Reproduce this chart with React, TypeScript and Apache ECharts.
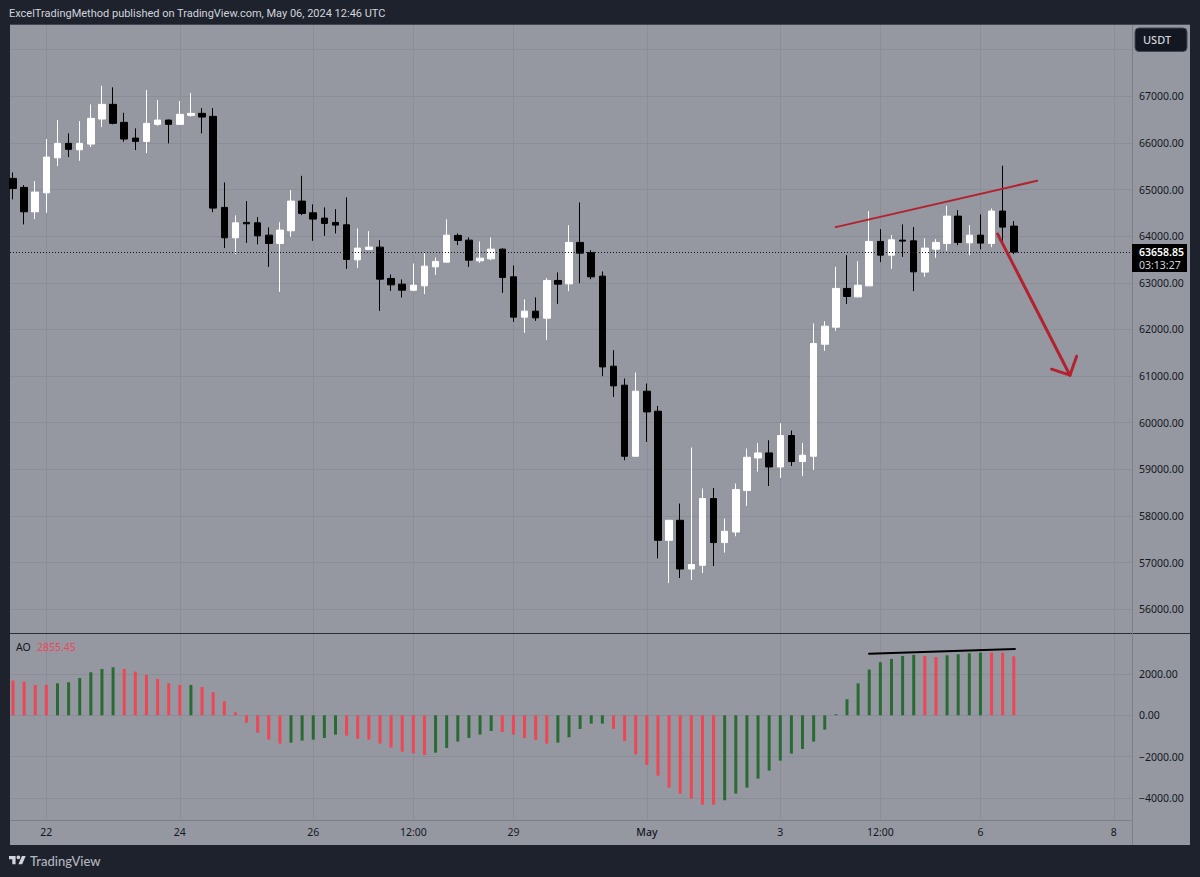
import React, { useEffect, useRef } from "react";
import * as echarts from "echarts";

const opens = [65240,65047,64524,64931,65682,65991,65854,65976,66513,66828,66442,66105,66034,66399,66491,66399,66592,66635,66571,64618,63966,64296,64287,64023,63845,64116,64753,64502,64388,64296,64245,63493,63717,63766,63094,62972,62843,62935,63343,63444,64017,63916,63472,63515,63723,63129,62264,62393,62242,63051,62978,63867,63652,63144,61212,60805,59281,60676,60247,57478,57907,56862,56942,58373,57429,57656,58545,59244,59352,59051,59725,59167,59281,61684,62049,62880,62699,62935,63888,63594,63916,63901,63230,63723,63845,64431,63858,64023,63845,64539,64217];
const closes = [65026,64524,64946,65697,65991,65863,65991,66528,66828,66421,66084,66034,66421,66491,66399,66614,66635,66556,64603,63966,64287,64266,64008,63845,64131,64753,64489,64367,64275,64238,63502,63745,63766,63079,62957,62843,62950,63358,63459,64023,63910,63487,63530,63723,63116,62264,62393,62249,63051,62972,63867,63637,63129,61197,60790,59281,60676,60232,57478,57907,56862,56957,58373,57429,57671,58566,59259,59352,59051,59725,59167,59302,61699,62071,62880,62708,62950,63888,63594,63923,63895,63236,63745,63867,64431,63867,64023,63852,64539,64195,63658.85];
const lows = [64790,64253,64367,64502,65504,65697,65618,65912,66341,66400,66026,65848,65783,66369,65991,66390,66562,66206,64517,63745,63616,63858,63824,63343,62807,63987,64453,63901,64008,64060,63300,63322,63702,62399,62828,62687,62822,62757,63172,63440,63809,63343,63429,63487,62785,62163,61927,62184,61777,62549,62822,62993,63079,60998,60553,59195,59270,59588,57092,56562,56669,56626,56776,56927,57214,57564,58214,58952,58643,58815,59073,58858,58987,61541,61970,62549,62690,62930,63444,63300,63558,62822,63129,63536,63687,63809,63594,63717,63766,63845,63616];
const highs = [65369,65096,65182,66084,66491,66206,66470,66828,67227,67193,66648,66313,67135,66921,66500,66899,67071,66749,66749,65154,64446,64753,64410,64189,64302,64989,65296,64682,64618,64581,64833,64167,64109,63916,63180,63073,63416,63644,63545,64360,64060,63974,63888,63974,63738,63373,62644,62687,63101,63223,64238,64725,63702,63244,61556,60948,61077,60841,60360,57910,58266,59468,58588,58601,57944,58695,59446,59566,59624,59989,59832,59566,62129,62178,63343,63594,63465,64539,64152,64023,64253,64195,63953,63938,64652,64560,64238,64468,64596,65511,64324];

const aoValues = [1677,1629,1468,1468,1548,1597,1806,2081,2242,2323,2242,2113,1952,1758,1548,1468,1468,1371,1113,677,145,-355,-839,-1178,-1371,-1323,-1226,-1178,-1097,-935,-984,-1129,-1178,-1371,-1565,-1758,-1839,-1919,-1807,-1581,-1274,-1097,-935,-758,-806,-935,-1097,-1194,-1371,-1323,-1065,-661,-403,-403,-661,-1242,-1887,-2403,-2920,-3500,-3790,-4032,-4323,-4323,-4113,-3790,-3500,-3065,-2678,-2194,-1855,-1629,-1274,-694,48,774,1548,2210,2565,2726,2871,2920,2871,2823,2903,2952,3000,3032,3032,3032,2855.45];
const aoRising = [0,0,0,0,1,1,1,1,1,1,0,0,0,0,0,0,1,0,0,0,0,0,0,0,0,1,1,1,1,1,0,0,0,0,0,0,0,0,1,1,1,1,1,1,0,0,0,0,0,1,1,1,1,1,0,0,0,0,0,0,0,0,0,0,1,1,1,1,1,1,1,1,1,1,1,1,1,1,1,1,1,1,0,0,1,1,1,1,0,0,0];

const timeTicks = [3, 15, 27, 36, 45, 57, 69, 78, 87, 99];
const timeLabels = ["22", "24", "26", "12:00", "29", "May", "3", "12:00", "6", "8"];
const priceGrid = [56000,57000,58000,59000,60000,61000,62000,63000,64000,65000,66000,67000,68000];
const priceLabels = [56000,57000,58000,59000,60000,61000,62000,63000,64000,65000,66000,67000];
const aoTicks = [-4000, -2000, 0, 2000];

const lastPrice = 63658.85;
const trendLine = [[73.98, 64195], [92.1, 65189]];
const arrowShaft = [[88.55, 64045], [95.05, 61019]];
const arrowHead = [[93.4, 61148], [95.05, 61019], [95.65, 61427]];
const aoTrend = [[76.98, 2980], [90.1, 3207]];

const FONT = "Noto Sans";
const BG = "#1e222d";
const PANE = "#9598a1";
const GRID = "#8b8e98";
const INK = "#131722";
const DRAW_RED = "#b2232f";

const logoPath =
  "M14 22H7V11H0V4h14v18zM28 22h-8l7.5-18h8L28 22zM24 7a4 4 0 1 1-8 0 4 4 0 0 1 8 0z";
echarts.graphic.registerShape("tvlogo", echarts.graphic.extendPath(logoPath, {}));

const drawLine = (data: number[][], color: string, width: number, x: number) => ({
  type: "line",
  xAxisIndex: x,
  yAxisIndex: x,
  data,
  showSymbol: false,
  symbol: "none",
  silent: true,
  z: 6,
  lineStyle: { color, width, cap: "round", join: "miter" },
});

export default function App() {
  const ref = useRef<HTMLDivElement>(null);
  useEffect(() => {
    document.body.style.margin = "0";
    const chart = echarts.init(ref.current!, undefined, { renderer: "svg" });
    const xBase = {
      type: "value",
      min: -0.27,
      max: 100.63,
      axisLine: { show: false },
      axisTick: { show: false, customValues: timeTicks },
      splitLine: { show: true, lineStyle: { color: GRID, width: 1 } },
    };
    chart.setOption({
      animation: false,
      backgroundColor: BG,
      textStyle: { fontFamily: FONT },
      grid: [
        { left: 10, right: 68, top: 25, height: 608 },
        { left: 10, right: 68, top: 634, height: 186.5 },
      ],
      xAxis: [
        { ...xBase, gridIndex: 0, axisLabel: { show: false } },
        {
          ...xBase,
          gridIndex: 1,
          axisLabel: {
            show: true,
            customValues: timeTicks,
            margin: 6,
            fontFamily: FONT,
            fontSize: 10.5,
            color: INK,
            formatter: (v: number) => {
              const t = timeLabels[timeTicks.indexOf(v)];
              return t === "May" ? `{b|${t}}` : t;
            },
            rich: { b: { fontFamily: FONT, fontSize: 10.5, fontWeight: 500, color: INK } },
          },
        },
      ],
      yAxis: [
        {
          type: "value",
          gridIndex: 0,
          position: "right",
          min: 55490,
          max: 68530,
          axisLine: { show: false },
          axisTick: { show: false, customValues: priceGrid },
          splitLine: { show: true, lineStyle: { color: GRID, width: 1 } },
          axisLabel: {
            customValues: priceLabels,
            margin: 7,
            fontFamily: FONT,
            fontSize: 10.5,
            color: INK,
            formatter: (v: number) => v.toFixed(2),
          },
        },
        {
          type: "value",
          gridIndex: 1,
          position: "right",
          min: -5090,
          max: 3933,
          axisLine: { show: false },
          axisTick: { show: false, customValues: aoTicks },
          splitLine: { show: true, lineStyle: { color: GRID, width: 1 } },
          axisLabel: {
            customValues: aoTicks,
            margin: 7,
            fontFamily: FONT,
            fontSize: 10.5,
            color: INK,
            formatter: (v: number) => (v < 0 ? "\u2212" + Math.abs(v).toFixed(2) : v.toFixed(2)),
          },
        },
      ],
      series: [
        {
          type: "candlestick",
          xAxisIndex: 0,
          yAxisIndex: 0,
          barWidth: 7,
          silent: true,
          z: 4,
          data: opens.map((o, i) => [i, o, closes[i], lows[i], highs[i]]),
          itemStyle: {
            color: "#ffffff",
            color0: "#000000",
            borderColor: "#ffffff",
            borderColor0: "#000000",
            borderWidth: 1,
          },
          markLine: {
            silent: true,
            symbol: "none",
            label: { show: false },
            lineStyle: { color: INK, type: [1, 2], width: 1 },
            data: [{ yAxis: lastPrice }],
          },
        },
        {
          type: "bar",
          xAxisIndex: 1,
          yAxisIndex: 1,
          barWidth: 3,
          silent: true,
          z: 4,
          data: aoValues.map((v, i) => ({
            value: [i, v],
            itemStyle: { color: aoRising[i] ? "#2a6b33" : "#ef4655" },
          })),
        },
        drawLine(trendLine, DRAW_RED, 2, 0),
        drawLine(arrowShaft, DRAW_RED, 3, 0),
        drawLine(arrowHead, DRAW_RED, 3, 0),
        drawLine(aoTrend, "#000000", 2, 1),
      ],
      graphic: [
        { type: "rect", z: -5, silent: true, shape: { x: 10, y: 25, width: 1180, height: 820 }, style: { fill: PANE } },
        { type: "line", z: 3, silent: true, shape: { x1: 10, y1: 24.5, x2: 1190, y2: 24.5 }, style: { stroke: "#434651", lineWidth: 1 } },
        { type: "line", z: 3, silent: true, shape: { x1: 10, y1: 633.5, x2: 1190, y2: 633.5 }, style: { stroke: "#2a2e39", lineWidth: 1 } },
        { type: "line", z: 3, silent: true, shape: { x1: 10, y1: 820.5, x2: 1132, y2: 820.5 }, style: { stroke: "#7d808b", lineWidth: 1 } },
        { type: "line", z: 3, silent: true, shape: { x1: 1132.5, y1: 25, x2: 1132.5, y2: 845 }, style: { stroke: "#7d808b", lineWidth: 1 } },
        { type: "rect", z: 8, silent: true, shape: { x: 1135, y: 28, width: 52, height: 23.5, r: 4 }, style: { fill: "#131722", stroke: "#434651", lineWidth: 1 } },
        { type: "text", z: 9, silent: true, x: 1143, y: 39.5, style: { text: "USDT", fill: "#d1d4dc", font: `500 11px "${FONT}"`, verticalAlign: "middle" } },
        { type: "rect", z: 8, silent: true, shape: { x: 1132, y: 244, width: 55, height: 28 }, style: { fill: "#000000" } },
        { type: "text", z: 9, silent: true, x: 1139, y: 251.5, style: { text: lastPrice.toFixed(2), fill: "#ffffff", font: `600 10.5px "${FONT}"`, verticalAlign: "middle" } },
        { type: "text", z: 9, silent: true, x: 1139, y: 265, style: { text: "03:13:27", fill: "#d1d4dc", font: `400 10.5px "${FONT}"`, verticalAlign: "middle" } },
        { type: "text", z: 9, silent: true, x: 9, y: 13, style: { text: "ExcelTradingMethod published on TradingView.com, May 06, 2024 12:46 UTC", fill: "#d1d4dc", font: `400 11px "Roboto"`, verticalAlign: "middle" } },
        { type: "text", z: 9, silent: true, x: 16, y: 647, style: { text: "AO", fill: INK, font: `400 10.5px "${FONT}"`, verticalAlign: "middle" } },
        { type: "text", z: 9, silent: true, x: 37, y: 647, style: { text: "2855.45", fill: "#ef4655", font: `400 10.5px "${FONT}"`, verticalAlign: "middle" } },
        { type: "tvlogo", z: 9, silent: true, x: 9, y: 854, scaleX: 0.47, scaleY: 0.47, style: { fill: "#d1d4dc" } },
        { type: "text", z: 9, silent: true, x: 30, y: 861, style: { text: "TradingView", fill: "#b2b5be", font: `500 13px "Lato"`, verticalAlign: "middle" } },
      ],
    });
    return () => chart.dispose();
  }, []);
  return <div ref={ref} style={{ width: 1200, height: 877 }} />;
}
